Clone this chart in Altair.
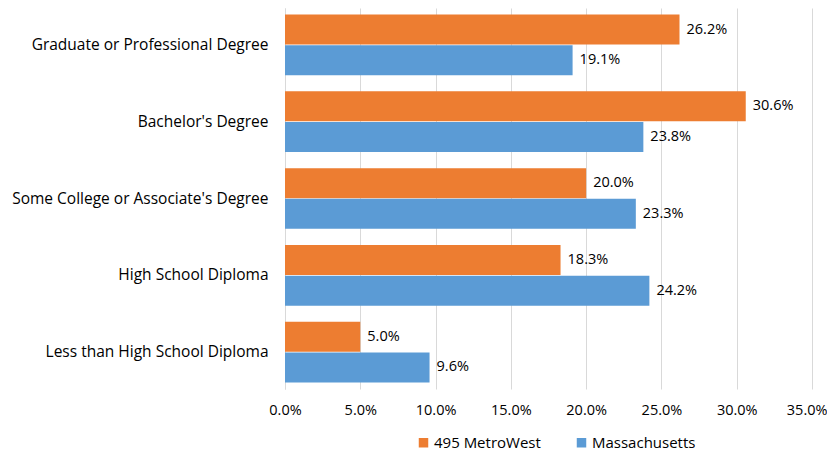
import altair as alt
import pandas as pd

categories = [
    "Graduate or Professional Degree",
    "Bachelor's Degree",
    "Some College or Associate's Degree",
    "High School Diploma",
    "Less than High School Diploma",
]
series = ["495 MetroWest", "Massachusetts"]
metrowest = [26.2, 30.6, 20.0, 18.3, 5.0]
massachusetts = [19.1, 23.8, 23.3, 24.2, 9.6]
colors = ["#ED7D31", "#5B9BD5"]
x_ticks = [0, 5, 10, 15, 20, 25, 30, 35]

rows = []
for c, a, b in zip(categories, metrowest, massachusetts):
    rows.append({"cat": c, "series": series[0], "value": a / 100, "label": f"{a:.1f}%"})
    rows.append({"cat": c, "series": series[1], "value": b / 100, "label": f"{b:.1f}%"})
df = pd.DataFrame(rows)

FONT = "Open Sans"
FS = 14.5

y_enc = alt.Y("cat:N", sort=categories, title=None,
              scale=alt.Scale(paddingInner=0.2, paddingOuter=0.08),
              axis=alt.Axis(labelFont=FONT, labelFontSize=15.5, labelColor="#000000",
                            labelPadding=17, ticks=False, domain=True,
                            domainColor="#d9d9d9", labelLimit=300))
yoff = alt.YOffset("series:N", sort=series, scale=alt.Scale(paddingInner=0.0, paddingOuter=0))

base = alt.Chart(df).encode(
    y=y_enc,
    yOffset=yoff,
)

bars = base.mark_bar(size=30).encode(
    x=alt.X("value:Q", title=None,
            scale=alt.Scale(domain=[0, 0.35], nice=False),
            axis=alt.Axis(values=[v / 100 for v in x_ticks], format=".1%",
                          labelFont=FONT, labelFontSize=FS, labelColor="#000000",
                          labelPadding=14, ticks=False, domain=False,
                          labelAlign={"condition": {"test": "datum.value >= 0.349", "value": "right"},
                                      "value": "center"},
                          labelOffset={"condition": {"test": "datum.value >= 0.349", "value": 15},
                                       "value": 0},
                          grid=True, gridColor="#d9d9d9", labelFlush=False)),
    color=alt.Color("series:N", sort=series,
                    scale=alt.Scale(domain=series, range=colors),
                    legend=alt.Legend(title=None, orient="none", direction="horizontal",
                                      legendX=131, legendY=427, symbolType="square",
                                      symbolSize=90, symbolStrokeWidth=0,
                                      labelFont=FONT, labelFontSize=15,
                                      labelColor="#000000", columnPadding=33,
                                      symbolOffset=0, labelOffset=3)),
)

text = base.mark_text(align="left", baseline="middle", dx=7, font=FONT,
                      fontSize=FS, color="#000000").encode(
    x=alt.X("value:Q"),
    text="label:N",
)

chart = alt.layer(bars, text).properties(
    width=527, height=381,
    autosize=alt.AutoSizeParams(type="none"),
    padding={"left": 277, "top": 0, "right": 15, "bottom": 65},
).configure_view(stroke=None)

chart.save("out.html", embed_options={"renderer": "svg", "actions": False})
